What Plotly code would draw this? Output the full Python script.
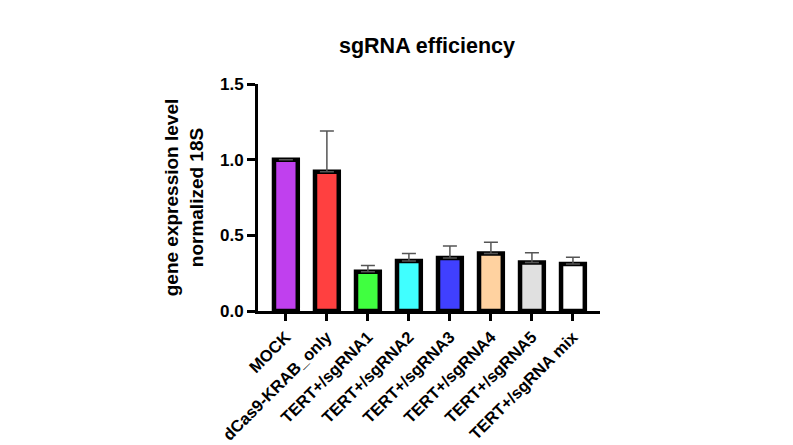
import plotly.graph_objects as go

categories = ["MOCK", "dCas9-KRAB_only", "TERT+/sgRNA1", "TERT+/sgRNA2", "TERT+/sgRNA3",
              "TERT+/sgRNA4", "TERT+/sgRNA5", "TERT+/sgRNA mix"]
values = [1.0, 0.92, 0.26, 0.33, 0.35, 0.38, 0.32, 0.31]
errors = [0.0, 0.27, 0.04, 0.05, 0.08, 0.075, 0.065, 0.045]
colors = ["#C040EE", "#FF4040", "#40FF40", "#40FFFF", "#4040FF", "#FFD2A0", "#E0E0E0", "#FFFFFF"]
y_ticks = [0.0, 0.5, 1.0, 1.5]

font = "Liberation Sans, Arial, sans-serif"

fig = go.Figure()
fig.add_trace(go.Bar(
    x=list(range(len(categories))), y=values,
    width=0.58,
    marker=dict(color=colors, line=dict(color="black", width=4.5)),
    error_y=dict(type="data", array=errors, symmetric=False, arrayminus=[0]*len(errors),
                 color="#555555", thickness=1.5, width=7, visible=True),
))

OFF = 8  # page body offset
W, H = 793 - OFF, 445 - OFF


def fx(px):
    return (px - OFF) / W


def fy(py):
    return 1 - (py - OFF) / H


fig.update_layout(
    width=W, height=H,
    margin=dict(l=0, r=0, t=0, b=0),
    plot_bgcolor="white", paper_bgcolor="white",
    showlegend=False,
    font=dict(family=font, color="black"),
    title=dict(text="<b>sgRNA efficiency</b>", x=fx(427), xanchor="center", y=fy(45), yanchor="middle",
               font=dict(size=21.5, family=font, color="black"), automargin=False),
    xaxis=dict(
        domain=[fx(258), fx(600)],
        range=[-0.68, 7.66],
        automargin=False,
        tickmode="array", tickvals=list(range(len(categories))),
        ticktext=["<b>%s</b>" % c for c in categories],
        tickangle=-45, tickfont=dict(size=16.5, family=font, color="black"),
        showline=True, linecolor="black", linewidth=3,
        ticks="outside", ticklen=7, tickwidth=2.5, tickcolor="black",
        showgrid=False, zeroline=False,
    ),
    yaxis=dict(
        domain=[fy(311), fy(84)],
        range=[0, 1.5],
        automargin=False,
        tickmode="array", tickvals=y_ticks,
        ticktext=["<b>%.1f</b>" % v for v in y_ticks],
        tickfont=dict(size=17, family=font, color="black"),
        showline=True, linecolor="black", linewidth=3,
        ticks="outside", ticklen=8, tickwidth=2.5, tickcolor="black",
        showgrid=False, zeroline=False,
        title=dict(text="<b>gene expression level<br>normalized 18S</b>",
                   font=dict(size=19, family=font, color="black"), standoff=12),
    ),
)
fig.write_html("out.html")
